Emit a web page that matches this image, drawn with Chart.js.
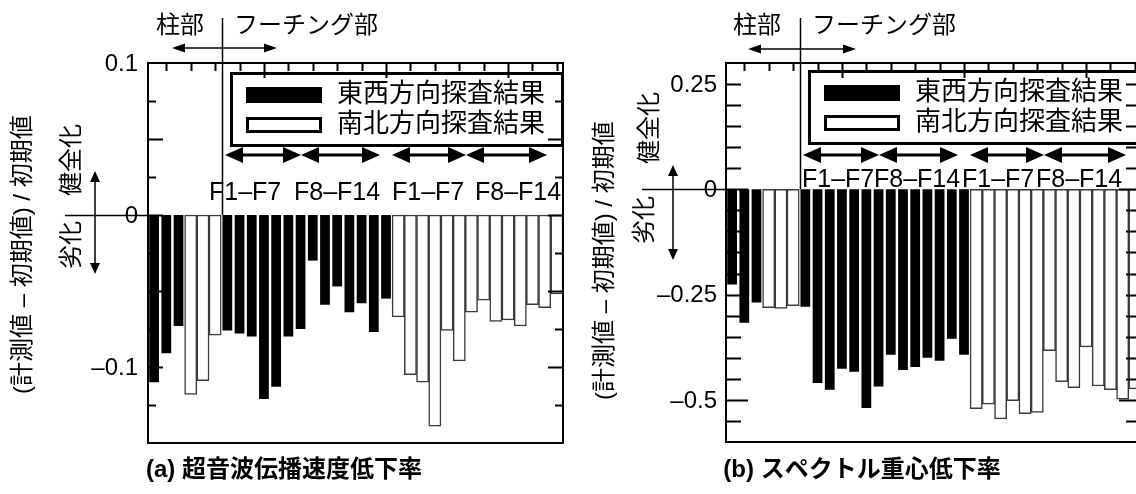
<!DOCTYPE html>
<html><head><meta charset="utf-8">
<script src="https://cdn.jsdelivr.net/npm/chart.js@4"></script>
<style>
html,body{margin:0;padding:0;width:1136px;height:494px;overflow:hidden;background:#fff;}
canvas{position:absolute;top:0;}
#ca{left:0px}
#cb{left:590px}
</style></head><body>
<canvas id="ca" width="600" height="494"></canvas>
<canvas id="cb" width="570" height="494"></canvas>
<script>
// ---- categories: 3 column points (EW), 3 column points (NS), F1-F14 (EW), F1-F14 (NS)
const positions = ['1','2','3','4','5','6','7','8','9','10','11','12','13','14','15','16','17',
  '18','19','20','21','22','23','24','25','26','27','28','29','30','31','32','33','34'];
const legendLabels = ['東西方向探査結果', '南北方向探査結果'];
const segmentLabels = ['F1–F7', 'F8–F14', 'F1–F7', 'F8–F14'];

// ---- panel (a) 超音波伝播速度低下率
const aColumnEW = [-0.110, -0.091, -0.073];
const aColumnNS = [-0.118, -0.109, -0.079];
const aFootingEW = [-0.076, -0.078, -0.080, -0.121, -0.113, -0.080, -0.075, -0.030, -0.059, -0.047, -0.064, -0.058, -0.077, -0.055];
const aFootingNS = [-0.067, -0.105, -0.110, -0.139, -0.076, -0.096, -0.064, -0.056, -0.070, -0.069, -0.073, -0.059, -0.061, -0.052];
const aYTicks = [0.1, 0, -0.1];
const aYTickLabels = ['0.1', '0', '–0.1'];

// ---- panel (b) スペクトル重心低下率
const bColumnEW = [-0.226, -0.317, -0.269];
const bColumnNS = [-0.281, -0.283, -0.276];
const bFootingEW = [-0.279, -0.460, -0.476, -0.426, -0.433, -0.519, -0.468, -0.393, -0.429, -0.422, -0.400, -0.407, -0.355, -0.393];
const bFootingNS = [-0.521, -0.510, -0.545, -0.502, -0.533, -0.530, -0.383, -0.457, -0.471, -0.374, -0.467, -0.476, -0.498, -0.474];
const bYTicks = [0.25, 0, -0.25, -0.5];
const bYTickLabels = ['0.25', '0', '–0.25', '–0.5'];

const gap3 = [null, null, null];
const gap14 = [null, null, null, null, null, null, null, null, null, null, null, null, null, null];
function ewSeries(col, foot) { return [].concat(col, gap3, foot, gap14); }
function nsSeries(col, foot) { return [].concat(gap3, col, gap14, foot); }

const LAT = "'Liberation Sans', Arial, 'Noto Sans CJK JP'";
const CJK = "'Liberation Sans', 'Noto Sans CJK JP'";

function arrowH(ctx, x1, x2, y, hl, hh, lw) {
  ctx.lineWidth = lw;
  ctx.beginPath(); ctx.moveTo(x1 + hl * 0.5, y); ctx.lineTo(x2 - hl * 0.5, y); ctx.stroke();
  ctx.beginPath(); ctx.moveTo(x1, y); ctx.lineTo(x1 + hl, y - hh); ctx.lineTo(x1 + hl, y + hh); ctx.closePath(); ctx.fill();
  ctx.beginPath(); ctx.moveTo(x2, y); ctx.lineTo(x2 - hl, y - hh); ctx.lineTo(x2 - hl, y + hh); ctx.closePath(); ctx.fill();
}
function arrowV(ctx, x, y1, y2, hl, hh, lw) {
  ctx.lineWidth = lw;
  ctx.beginPath(); ctx.moveTo(x, y1 + hl * 0.5); ctx.lineTo(x, y2 - hl * 0.5); ctx.stroke();
  ctx.beginPath(); ctx.moveTo(x, y1); ctx.lineTo(x - hh, y1 + hl); ctx.lineTo(x + hh, y1 + hl); ctx.closePath(); ctx.fill();
  ctx.beginPath(); ctx.moveTo(x, y2); ctx.lineTo(x - hh, y2 - hl); ctx.lineTo(x + hh, y2 - hl); ctx.closePath(); ctx.fill();
}
function rotText(ctx, text, x, y, align) {
  ctx.save(); ctx.translate(x, y); ctx.rotate(-Math.PI / 2);
  ctx.textAlign = align; ctx.textBaseline = 'middle'; ctx.fillText(text, 0, 0); ctx.restore();
}

function makeChart(id, ew, ns, cfg) {
  const ox = cfg.offsetX;
  const deco = {
    id: 'deco',
    afterDatasetsDraw(chart) {
      const ctx = chart.ctx, ca = chart.chartArea;
      const xs = chart.scales.x, ys = chart.scales.y;
      ctx.save();
      ctx.fillStyle = '#000'; ctx.strokeStyle = '#000';
      // legend box
      const L = cfg.legend;
      ctx.fillStyle = '#fff'; ctx.fillRect(L.x - ox, L.y, L.w, L.h);
      ctx.fillStyle = '#000';
      ctx.lineWidth = 3; ctx.strokeRect(L.x - ox + 1.5, L.y + 1.5, L.w - 3, L.h - 3);
      ctx.fillRect(L.sx - ox, L.y + 15, 76, 16);
      ctx.lineWidth = 3; ctx.strokeRect(L.sx - ox + 1.5, L.y + 46.5, 73, 13);
      ctx.font = '26px ' + CJK; ctx.textAlign = 'left'; ctx.textBaseline = 'middle';
      ctx.fillText(legendLabels[0], L.tx - ox, L.y + 23);
      ctx.fillText(legendLabels[1], L.tx - ox, L.y + 53);
      // segment arrows & labels
      ctx.strokeStyle = '#000'; ctx.fillStyle = '#000';
      cfg.arrows.forEach(a => arrowH(ctx, a[0] - ox, a[1] - ox, cfg.arrowY, 18, 8, 3));
      ctx.font = '25px ' + LAT; ctx.textBaseline = 'alphabetic'; ctx.textAlign = 'left';
      segmentLabels.forEach((t, i) => ctx.fillText(t, cfg.fX[i] - ox, cfg.fBase));
      // frame
      ctx.lineWidth = 2;
      ctx.strokeRect(ca.left, ca.top, ca.right - ca.left, ca.bottom - ca.top);
      // y ticks (inward, both sides)
      const n = Math.round((cfg.yMax - cfg.yMin) / cfg.minorStep);
      ctx.beginPath();
      for (let k = 1; k < n; k++) {
        const v = cfg.yMin + k * cfg.minorStep;
        const r = v / cfg.majorStep;
        const len = Math.abs(r - Math.round(r)) < 1e-6 ? cfg.majorLen : cfg.minorLen;
        const py = Math.round(ys.getPixelForValue(v)) + 0.5;
        ctx.moveTo(ca.left, py); ctx.lineTo(ca.left + len, py);
        ctx.moveTo(ca.right, py); ctx.lineTo(ca.right - len, py);
      }
      // top ticks
      for (let i = 1; i < positions.length; i += 2) {
        const px = Math.round(xs.getPixelForValue(i)) + 0.5;
        const len = (i % 10 === 9) ? 15 : 8;
        ctx.moveTo(px, ca.top); ctx.lineTo(px, ca.top + len);
      }
      ctx.stroke();
      // divider column / footing
      const dx = Math.round(xs.getPixelForValue(5.5)) + 1.5;
      ctx.lineWidth = 1.5;
      ctx.beginPath(); ctx.moveTo(dx, cfg.dividerTop); ctx.lineTo(dx, ys.getPixelForValue(0)); ctx.stroke();
      arrowH(ctx, cfg.topArrow[0] - ox, cfg.topArrow[1] - ox, cfg.topArrowY, 13, 4.5, 1.5);
      ctx.font = '24px ' + CJK; ctx.textAlign = 'left'; ctx.textBaseline = 'middle';
      ctx.fillText('柱部', cfg.colTextX - ox, 26);
      ctx.fillText('フーチング部', cfg.footTextX - ox, 26);
      // y tick labels
      ctx.font = '24px ' + LAT; ctx.textAlign = 'right'; ctx.textBaseline = 'middle';
      cfg.yTicks.forEach((v, i) => ctx.fillText(cfg.yTickLabels[i], ca.left - cfg.labelGap, ys.getPixelForValue(v) + 1));
      // zero line extending left
      const zy = Math.round(ys.getPixelForValue(0)) + 0.5;
      ctx.lineWidth = 1.5;
      ctx.beginPath(); ctx.moveTo(cfg.zeroFrom - ox, zy); ctx.lineTo(ca.left, zy); ctx.stroke();
      arrowV(ctx, cfg.vArrow[0] - ox, cfg.vArrow[1], cfg.vArrow[2], 11, 5, 1.5);
      ctx.font = '24px ' + CJK;
      rotText(ctx, '健全化', cfg.upText[0] - ox, cfg.upText[1], 'center');
      rotText(ctx, '劣化', cfg.downText[0] - ox, cfg.downText[1], 'center');
      ctx.font = '24px ' + CJK;
      rotText(ctx, '(計測値 – 初期値) / 初期値', cfg.yTitle[0] - ox, cfg.yTitle[1], 'left');
      // panel title
      ctx.font = 'bold 24px ' + CJK; ctx.textAlign = 'center'; ctx.textBaseline = 'middle';
      ctx.fillText(cfg.title, cfg.titlePos[0] - ox, cfg.titlePos[1]);
      ctx.restore();
    }
  };
  return new Chart(document.getElementById(id), {
    type: 'bar',
    data: {
      labels: positions,
      datasets: [
        { label: legendLabels[0], data: ew, backgroundColor: '#000', borderColor: '#000', borderWidth: 0,
          barPercentage: 0.8, categoryPercentage: 1, grouped: false },
        { label: legendLabels[1], data: ns, backgroundColor: '#fff', borderColor: '#3a3a3a', borderWidth: 1.5,
          borderSkipped: false, barPercentage: 1, categoryPercentage: 1, grouped: false }
      ]
    },
    options: {
      responsive: false, animation: false, events: [],
      layout: { padding: cfg.pad },
      plugins: { legend: { display: false }, tooltip: { enabled: false } },
      scales: {
        x: { display: false },
        y: { display: false, min: cfg.yMin, max: cfg.yMax }
      }
    },
    plugins: [deco]
  });
}

makeChart('ca', ewSeries(aColumnEW, aFootingEW), nsSeries(aColumnNS, aFootingNS), {
  offsetX: 0,
  pad: { left: 148, right: 37, top: 63, bottom: 51 },
  yMin: -0.15, yMax: 0.1, minorStep: 0.025, majorStep: 0.05, minorLen: 8, majorLen: 15,
  yTicks: aYTicks, yTickLabels: aYTickLabels, labelGap: 10,
  legend: { x: 230, y: 72, w: 334, h: 75, sx: 246, tx: 337 },
  arrows: [[225, 301], [301, 380], [392, 466], [466, 547]], arrowY: 155,
  fX: [209, 294, 392, 475], fBase: 200,
  dividerTop: 18, topArrow: [172, 277], topArrowY: 48,
  colTextX: 156, footTextX: 234,
  zeroFrom: 65, vArrow: [95, 171, 274], upText: [72, 160], downText: [72, 245],
  yTitle: [23, 394],
  title: '(a) 超音波伝播速度低下率', titlePos: [284, 470]
});

makeChart('cb', ewSeries(bColumnEW, bFootingEW), nsSeries(bColumnNS, bFootingNS), {
  offsetX: 590,
  pad: { left: 136, right: 19, top: 63, bottom: 52 },
  yMin: -0.6, yMax: 0.3, minorStep: 0.05, majorStep: 0.5, minorLen: 15, majorLen: 22,
  yTicks: bYTicks, yTickLabels: bYTickLabels, labelGap: 9,
  legend: { x: 808, y: 70, w: 334, h: 75, sx: 824, tx: 915 },
  arrows: [[803, 879], [879, 958], [970, 1044], [1044, 1126]], arrowY: 155,
  fX: [802, 874, 962, 1036], fBase: 187,
  dividerTop: 18, topArrow: [748, 856], topArrowY: 49,
  colTextX: 733, footTextX: 812,
  zeroFrom: 642, vArrow: [673, 165, 260], upText: [650, 128], downText: [645, 220],
  yTitle: [605, 400],
  title: '(b) スペクトル重心低下率', titlePos: [862, 470]
});
</script>
</body></html>
